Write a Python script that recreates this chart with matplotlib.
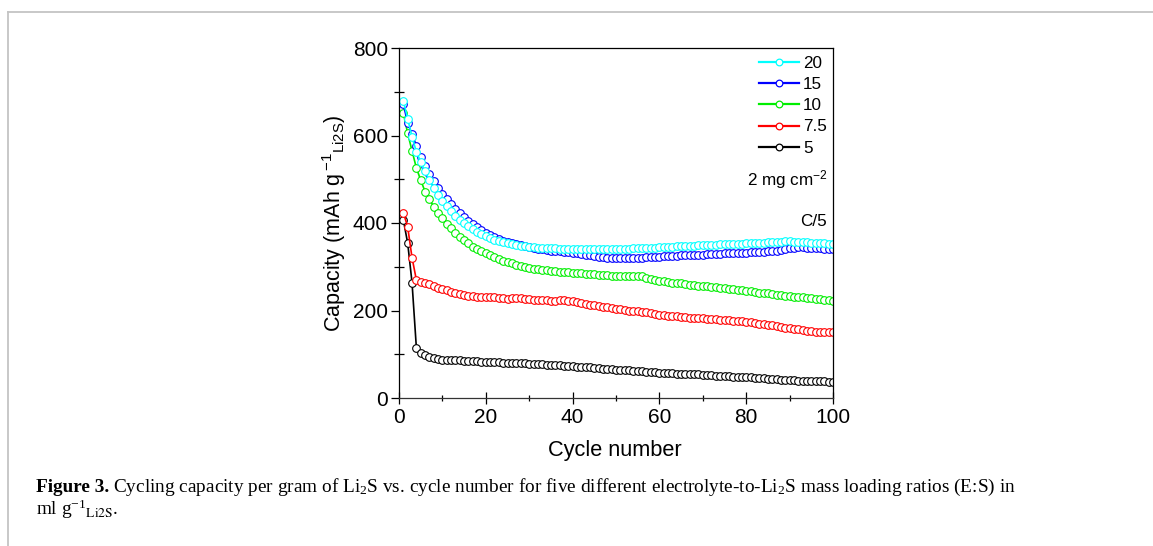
import matplotlib
matplotlib.use("Agg")
import matplotlib.pyplot as plt
from matplotlib.lines import Line2D
from matplotlib.ticker import MultipleLocator

plt.rcParams['font.family'] = ['Liberation Sans', 'DejaVu Sans']
plt.rcParams['mathtext.fontset'] = 'custom'
plt.rcParams['mathtext.rm'] = 'Liberation Sans'
plt.rcParams['mathtext.it'] = 'Liberation Sans'
plt.rcParams['mathtext.default'] = 'regular'

# ---------------- data ----------------
cycles = list(range(1, 101))

cap_5 = [407, 354, 264, 115, 104, 98, 94, 92, 90, 88,
         87, 87, 86, 86, 85, 85, 84, 84, 83, 83,
         82, 82, 82, 81, 81, 80, 80, 79, 79, 78,
         78, 77, 77, 76, 76, 75, 75, 74, 74, 73,
         72, 71, 71, 70, 69, 68, 67, 67, 66, 65,
         64, 64, 63, 62, 62, 61, 60, 60, 59, 58,
         58, 57, 57, 56, 56, 55, 55, 54, 54, 53,
         52, 52, 51, 51, 50, 50, 49, 48, 48, 47,
         47, 46, 46, 45, 44, 44, 43, 42, 42, 41,
         41, 40, 40, 39, 39, 38, 38, 38, 37, 37]

cap_7_5 = [424, 391, 321, 270, 266, 263, 260, 256, 252, 249,
           246, 243, 240, 238, 236, 234, 233, 232, 232, 231,
           231, 230, 229, 228, 227, 228, 229, 228, 227, 226,
           225, 224, 224, 223, 222, 222, 223, 223, 222, 221,
           219, 217, 215, 213, 212, 210, 209, 207, 205, 204,
           203, 201, 200, 199, 198, 197, 196, 194, 192, 190,
           189, 188, 187, 187, 186, 185, 184, 183, 183, 182,
           181, 180, 180, 179, 178, 178, 177, 176, 175, 174,
           173, 172, 170, 169, 167, 166, 164, 163, 161, 159,
           158, 157, 155, 154, 153, 152, 151, 150, 150, 150]

cap_10 = [651, 605, 565, 526, 498, 472, 455, 437, 422, 411,
          398, 388, 378, 369, 361, 354, 346, 340, 335, 331,
          326, 322, 318, 314, 311, 308, 305, 302, 300, 298,
          296, 295, 293, 292, 291, 290, 289, 288, 287, 286,
          286, 285, 284, 284, 283, 282, 281, 281, 280, 279,
          279, 278, 279, 280, 279, 278, 275, 272, 270, 268,
          267, 266, 264, 263, 262, 261, 259, 258, 257, 256,
          255, 254, 253, 252, 251, 250, 249, 248, 246, 245,
          244, 243, 241, 240, 239, 238, 236, 235, 234, 233,
          232, 231, 230, 229, 228, 227, 226, 225, 223, 222]

cap_15 = [672, 628, 603, 577, 552, 530, 512, 495, 480, 466,
          454, 443, 432, 422, 413, 405, 397, 390, 384, 378,
          373, 368, 364, 360, 357, 354, 351, 349, 347, 345,
          343, 341, 340, 338, 337, 336, 335, 334, 333, 332,
          331, 330, 328, 327, 325, 323, 322, 321, 320, 320,
          320, 320, 320, 320, 321, 321, 322, 322, 323, 323,
          324, 324, 325, 325, 326, 326, 327, 327, 328, 328,
          329, 329, 330, 330, 331, 331, 331, 332, 332, 332,
          333, 333, 334, 334, 335, 336, 337, 339, 341, 343,
          344, 345, 345, 344, 344, 343, 342, 341, 340, 340]

cap_20 = [680, 638, 597, 563, 540, 518, 498, 480, 464, 450,
          438, 427, 417, 408, 400, 393, 386, 380, 375, 370,
          366, 362, 359, 356, 354, 352, 350, 348, 347, 346,
          345, 344, 343, 343, 342, 342, 341, 341, 341, 340,
          340, 340, 340, 340, 340, 340, 340, 340, 340, 340,
          340, 341, 341, 342, 342, 343, 343, 344, 344, 345,
          345, 346, 346, 347, 347, 347, 348, 348, 349, 349,
          350, 350, 350, 351, 351, 352, 352, 353, 353, 354,
          354, 354, 355, 355, 356, 356, 357, 357, 358, 358,
          357, 357, 356, 356, 355, 355, 354, 354, 353, 353]

series_labels = ['5', '7.5', '10', '15', '20']
series_values = [cap_5, cap_7_5, cap_10, cap_15, cap_20]
series_colors = ['#000000', '#FF0000', '#00EE00', '#0000FF', '#00FFFF']

xticks = [0, 20, 40, 60, 80, 100]
yticks = [0, 200, 400, 600, 800]

# ---------------- figure ----------------
W, H = 1153, 546
fig = plt.figure(figsize=(W / 100, H / 100), dpi=100)
ax = fig.add_axes([399 / W, 1 - 398 / H, (833 - 399) / W, (398 - 48) / H])

handles = []
for lab, vals, col in zip(series_labels, series_values, series_colors):
    h, = ax.plot(cycles, vals, '-', color=col, lw=1.2, marker='o', ms=5.5,
                 mfc='white', mec=col, mew=0.8, label=lab)
    handles.append(h)

ax.set_xlim(0, 100)
ax.set_ylim(0, 800)
ax.set_xticks(xticks)
ax.set_yticks(yticks)
ax.xaxis.set_minor_locator(MultipleLocator(10))
ax.yaxis.set_minor_locator(MultipleLocator(100))
ax.tick_params(axis='both', which='both', top=False, right=False, labelsize=15, width=0.9)
ax.tick_params(axis='x', which='major', direction='inout', length=9, pad=3)
ax.tick_params(axis='x', which='minor', direction='inout', length=5)
ax.tick_params(axis='y', which='major', direction='out', length=6, pad=2)
ax.tick_params(axis='y', which='minor', direction='inout', length=7)
for s in ax.spines.values():
    s.set_linewidth(0.9)
ax.spines['bottom'].set_color('#333333')

ax.set_xlabel('Cycle number', fontsize=15.7)
ax.xaxis.set_label_coords(0.497, -0.12)
ax.set_ylabel('Capacity (mAh g$^{\\,\\mathregular{-1}}$$_{\\mathregular{Li2S}}$)', fontsize=15.5)
ax.yaxis.set_label_coords(-0.118, 0.5)

leg_handles = [Line2D([], [], color=h.get_color(), lw=1.6, marker='o', ms=4.8,
                      mfc='white', mec=h.get_color(), mew=0.9) for h in handles[::-1]]
leg = ax.legend(leg_handles, [h.get_label() for h in handles[::-1]],
                loc='upper left', bbox_to_anchor=(0.829, 0.977), frameon=False,
                fontsize=12.3, handlelength=2.35, handletextpad=0.25, labelspacing=0.36,
                borderpad=0, borderaxespad=0, numpoints=1)

ax.text(0.988, 0.624, '2 mg cm$^{\\mathregular{-2}}$', transform=ax.transAxes, ha='right',
        va='center', fontsize=12.3)
ax.text(0.986, 0.505, 'C/5', transform=ax.transAxes, ha='right', va='center', fontsize=12.3)

# frame lines of the page
fig.add_artist(Line2D([8 / W, 1], [1 - 12 / H, 1 - 12 / H], transform=fig.transFigure,
                      color='#c4c4c4', lw=1.3))
fig.add_artist(Line2D([8 / W, 8 / W], [1 - 12 / H, 0], transform=fig.transFigure,
                      color='#c4c4c4', lw=1.3))

# caption
serif = ['Liberation Serif', 'DejaVu Serif']
line1_rest = ('Cycling capacity per gram of Li$_2$S vs. cycle number for five different '
              'electrolyte-to-Li$_2$S mass loading ratios (E:S) in')


def draw_caption(fs):
    t1 = fig.text(36 / W, 1 - 492 / H, 'Figure 3.', fontsize=fs, fontweight='bold',
                  family=serif, va='baseline', ha='left')
    fig.canvas.draw()
    r = fig.canvas.get_renderer()
    bb = t1.get_window_extent(r)
    t2 = fig.text((bb.x1 + 0.28 * fs) / W, 1 - 492 / H, line1_rest, fontsize=fs,
                  family=serif, va='baseline', ha='left', math_fontfamily='stix')
    t3 = fig.text(36 / W, 1 - 515 / H, 'ml g$^{-1}$$_{\\mathrm{Li2S}}$.', fontsize=fs,
                  family=serif, va='baseline', ha='left', math_fontfamily='stix')
    fig.canvas.draw()
    return [t1, t2, t3], t2.get_window_extent(fig.canvas.get_renderer()).x1


fs0 = 11.3
texts, x_end = draw_caption(fs0)
scale = (1020 - 36) / (x_end - 36)
for t in texts:
    t.remove()
draw_caption(fs0 * scale)

fig.savefig('out.png', dpi=100)
